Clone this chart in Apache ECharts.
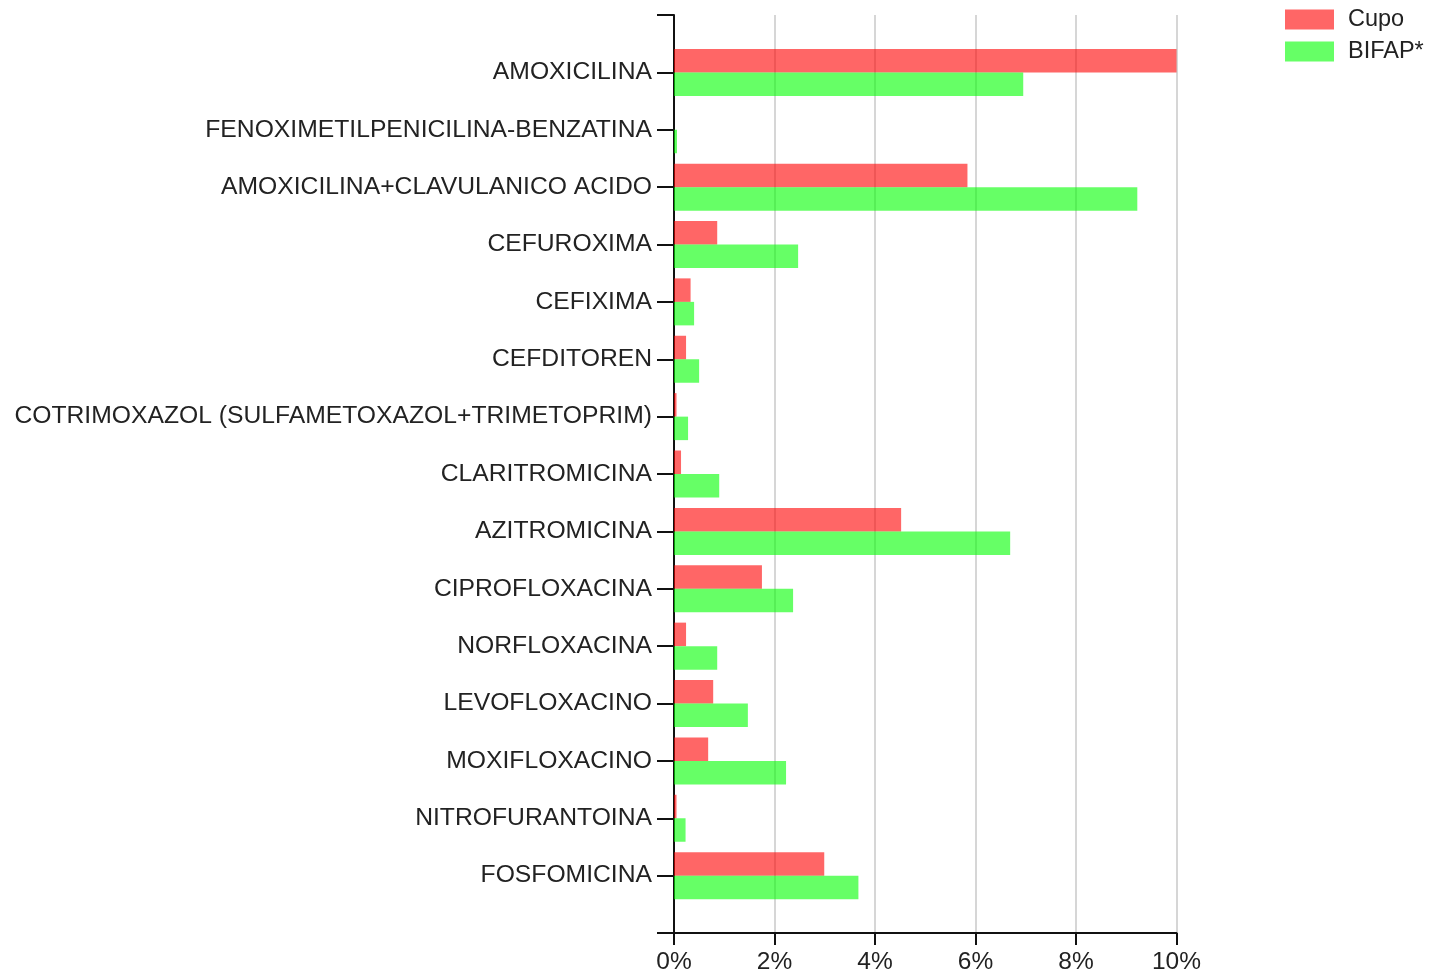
<!DOCTYPE html>
<html>
<head>
<meta charset="utf-8">
<script src="https://cdn.jsdelivr.net/npm/echarts@6/dist/echarts.min.js"></script>
<style>html,body{margin:0;padding:0;background:#fff;}#c{width:1432px;height:976px;}</style>
</head>
<body>
<div id="c"></div>
<script>
const categories = [
  'AMOXICILINA',
  'FENOXIMETILPENICILINA-BENZATINA',
  'AMOXICILINA+CLAVULANICO ACIDO',
  'CEFUROXIMA',
  'CEFIXIMA',
  'CEFDITOREN',
  'COTRIMOXAZOL (SULFAMETOXAZOL+TRIMETOPRIM)',
  'CLARITROMICINA',
  'AZITROMICINA',
  'CIPROFLOXACINA',
  'NORFLOXACINA',
  'LEVOFLOXACINO',
  'MOXIFLOXACINO',
  'NITROFURANTOINA',
  'FOSFOMICINA'
];
const cupo  = [10.0, 0.0, 5.84, 0.86, 0.33, 0.24, 0.05, 0.14, 4.52, 1.75, 0.24, 0.78, 0.68, 0.05, 2.99];
const bifap = [6.95, 0.06, 9.22, 2.47, 0.40, 0.50, 0.28, 0.90, 6.69, 2.37, 0.86, 1.47, 2.23, 0.23, 3.67];
const xTicks = [0, 2, 4, 6, 8, 10];

const cats = [''].concat(categories, ['']);
const pad = a => [null].concat(a, [null]);

const chart = echarts.init(document.getElementById('c'));
const font = 'Liberation Sans, Arial, sans-serif';
chart.setOption({
  animation: false,
  backgroundColor: '#ffffff',
  legend: {
    orient: 'vertical',
    left: 1285, top: 7.5, padding: 0,
    itemWidth: 49, itemHeight: 20, itemGap: 8,
    icon: 'rect',
    textStyle: {fontFamily: font, fontSize: 23.5, color: '#222', padding: [0,0,0,9]},
    data: ['Cupo', 'BIFAP*']
  },
  grid: {left: 674, right: 255.5, top: 15, bottom: 43, containLabel: false},
  xAxis: {
    type: 'value', min: xTicks[0], max: xTicks[xTicks.length-1], interval: 2,
    axisLine: {show: true, lineStyle: {color: '#111', width: 2}},
    axisTick: {show: true, length: 12, lineStyle: {color: '#111', width: 2}},
    axisLabel: {formatter: '{value}%', fontFamily: font, fontSize: 24.5, color: '#222', margin: 17},
    splitLine: {show: true, lineStyle: {color: '#d6d6d6', width: 2}}
  },
  yAxis: {
    type: 'category', data: cats, inverse: true, boundaryGap: false,
    axisLine: {show: true, lineStyle: {color: '#111', width: 2}},
    axisTick: {show: true, length: 17, interval: 0, lineStyle: {color: '#111', width: 2}},
    axisLabel: {interval: 0, fontFamily: font, fontSize: 24.7, color: '#222', margin: 22},
    splitLine: {show: false}
  },
  series: [
    {name: 'Cupo', type: 'bar', data: pad(cupo), barWidth: 23.5, barGap: '0%',
     itemStyle: {color: 'rgba(255,0,0,0.6)'}},
    {name: 'BIFAP*', type: 'bar', data: pad(bifap), barWidth: 23.5, barGap: '0%',
     itemStyle: {color: 'rgba(0,255,0,0.6)'}}
  ]
});
</script>
</body>
</html>
